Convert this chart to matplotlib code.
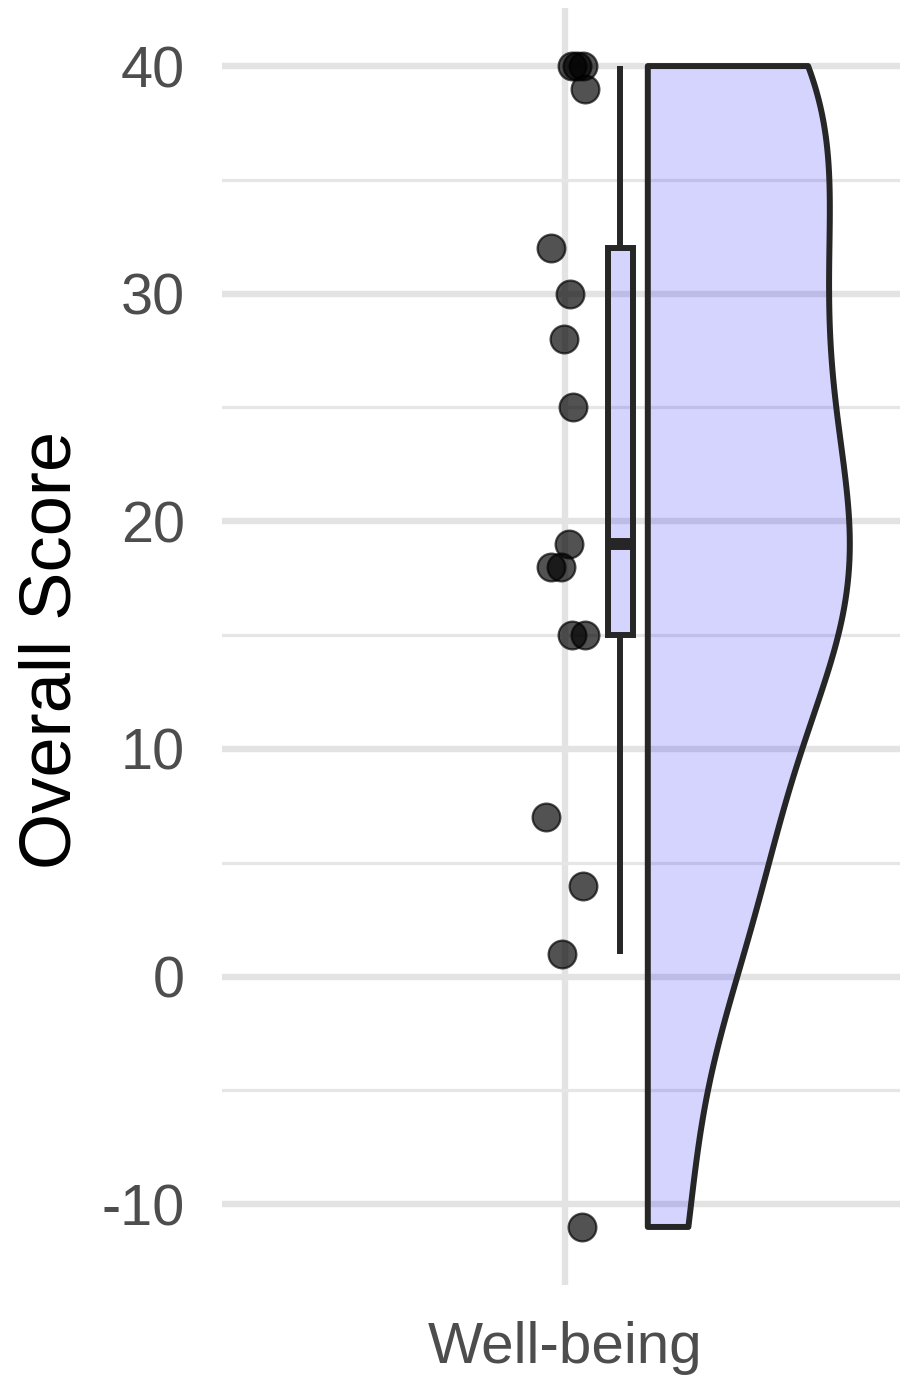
import numpy as np
import matplotlib
matplotlib.use("Agg")
import matplotlib.pyplot as plt
from matplotlib.ticker import FixedLocator
from matplotlib.patches import Polygon

# ---- data ----
category = ["Well-being"]
scores = [40, 40, 40, 39, 32, 30, 28, 25, 19, 18, 18, 15, 15, 7, 4, 1, -11]
jitter = [0.012, 0.022, 0.032, 0.036, -0.025, 0.009, -0.002, 0.014, 0.007,
          -0.025, -0.007, 0.013, 0.036, -0.034, 0.033, -0.005, 0.031]
y_major = [-10, 0, 10, 20, 30, 40]
y_minor = [-5, 5, 15, 25, 35]

plt.rcParams["font.family"] = ["Liberation Sans", "DejaVu Sans"]
plt.rcParams["axes.unicode_minus"] = False

W, H, DPI = 902, 1375, 100
fig = plt.figure(figsize=(W / DPI, H / DPI), dpi=DPI)
ax = fig.add_axes([222 / W, 1 - 1285 / H, (900 - 222) / W, (1285 - 8) / H])

px_per_unit = 552.0
xlim = (1 - 343 / px_per_unit, 1 + 335 / px_per_unit)
ax.set_xlim(*xlim)
ymin, ymax = min(scores), max(scores)
rng = ymax - ymin
ax.set_ylim(ymin - 0.05 * rng, ymax + 0.05 * rng)

line_c = "#262626"
lw = 4.3
fill_c = (0.0, 0.0, 1.0, 0.17)

# grid
ax.set_axisbelow(True)
ax.yaxis.set_major_locator(FixedLocator(y_major))
ax.yaxis.set_minor_locator(FixedLocator(y_minor))
ax.set_xticks([1])
ax.set_xticklabels(category)
ax.grid(True, which="major", axis="both", color="#e3e3e3", linewidth=4.6, zorder=0)
ax.grid(True, which="minor", axis="y", color="#e6e6e6", linewidth=2.3, zorder=0)
for s in ax.spines.values():
    s.set_visible(False)
ax.tick_params(axis="y", which="both", length=0, labelsize=41.5,
               labelcolor="#4d4d4d", pad=26.5)
ax.tick_params(axis="x", which="both", length=0, labelsize=42,
               labelcolor="#4d4d4d", pad=26.0)

# half violin (KDE, nrd0 bandwidth, trimmed)
vals = np.array(scores, dtype=float)
n = len(vals)
sd = vals.std(ddof=1)
q25, q50, q75 = np.percentile(vals, [25, 50, 75])
bw = 0.9 * min(sd, (q75 - q25) / 1.34) * n ** -0.2
grid = np.linspace(vals.min(), vals.max(), 512)
dens = np.exp(-0.5 * ((grid[:, None] - vals[None, :]) / bw) ** 2).sum(axis=1)
dens = dens / dens.max()
v_left = 1.15
v_width = 202 / px_per_unit
xs = np.concatenate([[v_left], v_left + v_width * dens, [v_left]])
ys = np.concatenate([[grid[0]], grid, [grid[-1]]])
poly = Polygon(np.column_stack([xs, ys]), closed=True, facecolor=fill_c,
               edgecolor=line_c, linewidth=lw, joinstyle="round", zorder=3)
ax.add_patch(poly)

# boxplot
iqr = q75 - q25
lo_f, hi_f = q25 - 1.5 * iqr, q75 + 1.5 * iqr
whislo = vals[vals >= lo_f].min()
whishi = vals[vals <= hi_f].max()
stats = [dict(med=q50, q1=q25, q3=q75, whislo=whislo, whishi=whishi, fliers=[])]
ax.bxp(stats, positions=[1.1], widths=0.046, showfliers=False, showcaps=False,
       patch_artist=True, manage_ticks=False,
       boxprops=dict(facecolor=fill_c, edgecolor=line_c, linewidth=lw),
       whiskerprops=dict(color=line_c, linewidth=lw, solid_capstyle="butt"),
       medianprops=dict(color=line_c, linewidth=lw * 2, solid_capstyle="butt"),
       zorder=3)

# jittered points
ax.scatter(1 + np.array(jitter), vals, s=400, facecolor="black",
           edgecolor="black", linewidth=1.6, alpha=0.68, zorder=4)

fig.text(52 / W, 1 - 650 / H, "Overall Score", rotation=90, ha="center",
         va="center", fontsize=52, color="black")

fig.savefig("out.png", dpi=DPI, facecolor="white")
